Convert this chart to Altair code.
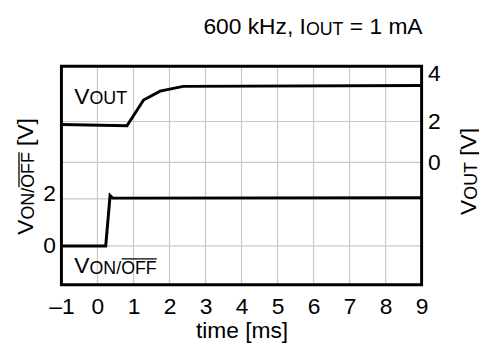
import altair as alt
import pandas as pd

FONT = "Liberation Sans"

# ---------------- data ----------------
time_ticks = [-1, 0, 1, 2, 3, 4, 5, 6, 7, 8, 9]
time_grid = [0, 1, 2, 3, 4, 5, 6, 7, 8]
von_time = [-1.0, 0.23, 0.35, 0.42, 9.0]
von_volt = [0.0, 0.0, 2.14, 2.03, 2.05]
vout_time = [-1.0, 0.82, 1.28, 1.74, 2.38, 9.0]
vout_volt = [1.85, 1.79, 3.05, 3.49, 3.72, 3.76]
von_ticks = [0, 2]
von_grid = [0, 2]
vout_ticks = [0, 2, 4]
vout_grid = [0, 2]

title_parts = ["600 kHz, I", "OUT", "= 1 mA"]
left_title_parts = ["V", "ON/", "OFF", "[V]"]
right_title_parts = ["V", "OUT", "[V]"]
vout_label_parts = ["V", "OUT"]
von_label_parts = ["V", "ON/", "OFF"]
x_title = "time [ms]"

# ---------------- layout ----------------
W, H = 364, 221
XDOM = [-1, 9]
LDOM = [-1.65, 7.63]
RDOM = [-6.0, 4.71]
F = 23      # main font size
S = 18      # subscript font size
GRID = "#c8c8c8"

# Arial / Liberation Sans advance widths (per 1000 em)
AW = {' ': 278, ',': 278, '0': 556, '1': 556, '6': 556, 'k': 500, 'H': 722, 'z': 500,
      'I': 278, 'O': 778, 'U': 722, 'T': 611, '=': 584, 'm': 833, 'A': 667, 'V': 667,
      'N': 722, '/': 278, 'F': 611, '[': 278, ']': 278}


def tw(s, size):
    return sum(AW.get(c, 556) for c in s) * size / 1000.0


def txt(text, x, y, size, angle=0, dx=0, dy=0):
    return alt.Chart(pd.DataFrame({"t": [text]})).mark_text(
        align="left", baseline="alphabetic", font=FONT, fontSize=size,
        color="black", angle=angle, dx=dx, dy=dy
    ).encode(x=alt.value(x), y=alt.value(y), text="t:N")


def rule(x1, y1, x2, y2):
    return alt.Chart(pd.DataFrame({"a": [0]})).mark_rule(
        color="black", strokeWidth=1.3
    ).encode(x=alt.value(x1), x2=alt.value(x2), y=alt.value(y1), y2=alt.value(y2))


xscale = alt.Scale(domain=XDOM, nice=False, zero=False)
lscale = alt.Scale(domain=LDOM, nice=False, zero=False)
rscale = alt.Scale(domain=RDOM, nice=False, zero=False)

xaxis = alt.Axis(
    values=time_ticks, grid=False,
    domain=False, ticks=False, tickSize=0, labelPadding=11,
    labelFlush=False, labelOverlap=False,
    labelFont=FONT, labelFontSize=F, labelColor="black",
    labelExpr="datum.value < 0 ? '\u2013' + abs(datum.value) : datum.label",
    title=x_title, titleFont=FONT, titleFontSize=F, titleFontWeight="normal",
    titleColor="black", titlePadding=1,
)

von_df = pd.DataFrame({"time": von_time, "v": von_volt})
vout_df = pd.DataFrame({"time": vout_time, "v": vout_volt})

# ---- grid lines ----
vgrid = alt.Chart(pd.DataFrame({"time": time_grid})).mark_rule(color=GRID, strokeWidth=1.2).encode(
    x=alt.X("time:Q", scale=xscale, axis=xaxis))
lgrid = alt.Chart(pd.DataFrame({"g": von_grid})).mark_rule(color=GRID, strokeWidth=1.2).encode(
    y=alt.Y("g:Q", scale=lscale, axis=None))
rgrid = alt.Chart(pd.DataFrame({"g": vout_grid})).mark_rule(color=GRID, strokeWidth=1.2).encode(
    y=alt.Y("g:Q", scale=rscale, axis=None))

von_line = alt.Chart(von_df).mark_line(color="black", strokeWidth=3, strokeJoin="miter").encode(
    x=alt.X("time:Q", scale=xscale, axis=xaxis),
    y=alt.Y("v:Q", scale=lscale,
            axis=alt.Axis(values=von_ticks, orient="left", grid=False,
                          domain=False, ticks=False, tickSize=0, labelPadding=6,
                          labelFlush=False, labelOverlap=False,
                          labelFont=FONT, labelFontSize=F, labelColor="black",
                          labelOffset={"condition": {"test": "datum.value == 2", "value": -5}, "value": 0},
                          title=None)),
)

vout_line = alt.Chart(vout_df).mark_line(color="black", strokeWidth=3, strokeJoin="miter").encode(
    x=alt.X("time:Q", scale=xscale, axis=xaxis),
    y=alt.Y("v:Q", scale=rscale,
            axis=alt.Axis(values=vout_ticks, orient="right", grid=False,
                          domain=False, ticks=False, tickSize=0, labelPadding=6,
                          labelFlush=False, labelOverlap=False,
                          labelFont=FONT, labelFontSize=F, labelColor="black",
                          labelOffset={"condition": {"test": "datum.value == 4", "value": -7},
                                       "value": 0},
                          title=None)),
)

frame = alt.Chart(pd.DataFrame({"a": [0]})).mark_rect(
    fill="white", fillOpacity=0, stroke="black", strokeWidth=3
).encode(x=alt.value(0), x2=alt.value(W), y=alt.value(0), y2=alt.value(H))

layers = [vgrid, lgrid, rgrid, von_line, vout_line, frame]

# ---- chart title (600 kHz, I_OUT = 1 mA) ----
tx0, ty = 143.5, -33.0
layers.append(txt(title_parts[0], tx0, ty, F))
tx1 = tx0 + tw(title_parts[0], F)
layers.append(txt(title_parts[1], tx1, ty + 1.5, S))
tx2 = tx1 + tw(title_parts[1], S) + tw(" ", F)
layers.append(txt(title_parts[2], tx2, ty, F))

# ---- in-plot label V_OUT ----
layers.append(txt(vout_label_parts[0], 13, 38.6, F))
layers.append(txt(vout_label_parts[1], 13 + tw("V", F), 38.6, S))

# ---- in-plot label V_ON/OFF ----
bx, by = 13, 208.6
layers.append(txt(von_label_parts[0], bx, by, F))
sx = bx + tw("V", F)
layers.append(txt(von_label_parts[1], sx, by + 1.5, S))
ox = sx + tw("ON/", S)
layers.append(txt(von_label_parts[2], ox, by + 1.5, S))
oy = by + 1.5 - 0.716 * S - 2.5
layers.append(rule(ox + 0.5, oy, ox + tw("OFF", S), oy))

# ---- left rotated title V_ON/OFF [V] ----
lx, ly = -29.0, 170.3
layers.append(txt(left_title_parts[0], lx, ly, F, angle=270))
d1 = tw("V", F)
layers.append(txt(left_title_parts[1], lx, ly, S, angle=270, dx=d1, dy=1.5))
d2 = d1 + tw("ON/", S)
layers.append(txt(left_title_parts[2], lx, ly, S, angle=270, dx=d2, dy=1.5))
ol = lx + 1.5 - 0.716 * S - 2.5
layers.append(rule(ol, ly - d2 - 0.5, ol, ly - d2 - tw("OFF", S)))
d3 = d2 + tw("OFF", S) + tw(" ", F)
layers.append(txt(left_title_parts[3], lx, ly, F, angle=270, dx=d3))

# ---- right rotated title V_OUT [V] ----
rx, ry = 418.5, 150.3
layers.append(txt(right_title_parts[0], rx, ry, F, angle=270))
e1 = tw("V", F)
layers.append(txt(right_title_parts[1], rx, ry, S, angle=270, dx=e1, dy=1.5))
e2 = e1 + tw("OUT", S) + tw(" ", F)
layers.append(txt(right_title_parts[2], rx, ry, F, angle=270, dx=e2))

chart = alt.layer(*layers).resolve_scale(y="independent").properties(
    width=W, height=H,
    padding={"left": 54, "top": 57, "right": 58, "bottom": 59},
    autosize=alt.AutoSizeParams(type="none"),
).configure_view(stroke=None)

chart.save("out.html", embed_options={"renderer": "svg", "actions": False})
